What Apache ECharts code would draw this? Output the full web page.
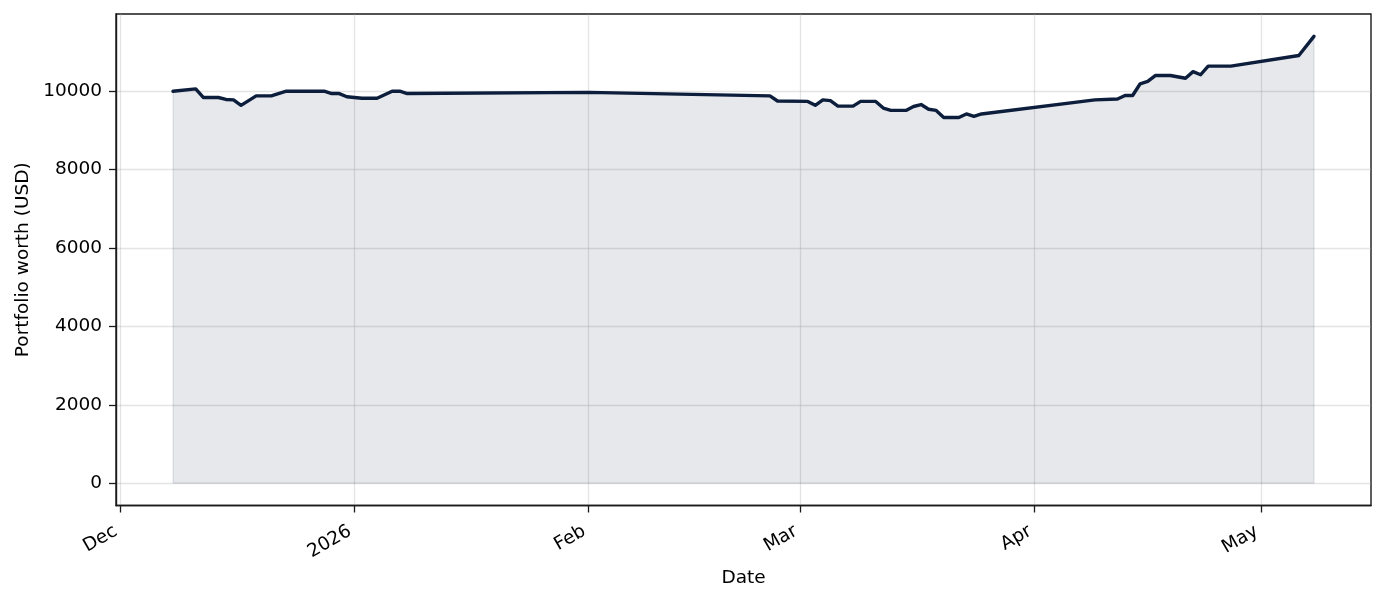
<!DOCTYPE html>
<html>
<head>
<meta charset="utf-8">
<script src="https://cdn.jsdelivr.net/npm/echarts@6/dist/echarts.min.js"></script>
<style>
html,body{margin:0;padding:0;background:#fff;}
#chart{width:1385px;height:602px;}
</style>
</head>
<body>
<div id="chart"></div>
<script>
// ---- data ----
const dates = [
  '2025-12-08','2025-12-11','2025-12-12','2025-12-14','2025-12-15','2025-12-16','2025-12-17',
  '2025-12-19','2025-12-21','2025-12-23','2025-12-28','2025-12-29','2025-12-30','2025-12-31',
  '2026-01-02','2026-01-04','2026-01-06','2026-01-07','2026-01-08','2026-02-01','2026-02-25',
  '2026-02-26','2026-03-02','2026-03-03','2026-03-04','2026-03-05','2026-03-06','2026-03-08',
  '2026-03-09','2026-03-11','2026-03-12','2026-03-13','2026-03-15','2026-03-16','2026-03-17',
  '2026-03-18','2026-03-19','2026-03-20','2026-03-22','2026-03-23','2026-03-24','2026-03-25',
  '2026-04-09','2026-04-12','2026-04-13','2026-04-14','2026-04-15','2026-04-16','2026-04-17',
  '2026-04-19','2026-04-21','2026-04-22','2026-04-23','2026-04-24','2026-04-27','2026-05-06',
  '2026-05-08'
];
const worth = [
  10000, 10060, 9840, 9840, 9790, 9780, 9640,
  9880, 9880, 10000, 10000, 9940, 9940, 9860,
  9820, 9820, 10000, 10000, 9940, 9970, 9880,
  9750, 9740, 9640, 9780, 9760, 9620, 9620,
  9740, 9740, 9570, 9510, 9510, 9610, 9660,
  9540, 9510, 9330, 9330, 9420, 9360, 9420,
  9780, 9800, 9890, 9890, 10190, 10250, 10400,
  10400, 10330, 10500, 10420, 10640, 10640, 10910,
  11400
];
const xTickDates = ['2025-12-01','2026-01-01','2026-02-01','2026-03-01','2026-04-01','2026-05-01'];
const xTickLabels = ['Dec','2026','Feb','Mar','Apr','May'];
const yTicks = [0, 2000, 4000, 6000, 8000, 10000];

// ---- build ----
const ts = d => { const p = d.split('-').map(Number); return Date.UTC(p[0], p[1]-1, p[2]); };
const seriesData = dates.map((d, i) => [ts(d), worth[i]]);
const xTickVals = xTickDates.map(ts);
const labelMap = {};
xTickVals.forEach((v, i) => { labelMap[v] = xTickLabels[i]; });

const first = ts(dates[0]), last = ts(dates[dates.length-1]);
const span = last - first;
const xMin = first - span * 0.05, xMax = last + span * 0.05;
const yLo = 0, yHi = Math.max(...worth);
const yMin = yLo - (yHi - yLo) * 0.05, yMax = yHi + (yHi - yLo) * 0.05;

// outline of the filled region (edge of the area polygon)
const fillEdge = [[first, 0]].concat(seriesData).concat([[last, 0], [first, 0]]);

const FONT = 'DejaVu Sans';
const AX = '#1a1a1a';
const GRIDC = 'rgba(176,176,176,0.34)';
const NAVY = '#0d1e3c';

const chart = echarts.init(document.getElementById('chart'), null, {renderer: 'canvas'});
chart.setOption({
  animation: false,
  backgroundColor: '#ffffff',
  textStyle: {fontFamily: FONT},
  grid: {left: 116, top: 14, right: 14, bottom: 96.5, show: true, borderColor: AX, borderWidth: 1.4, containLabel: false},
  xAxis: {
    type: 'value',
    min: xMin, max: xMax,
    name: 'Date', nameLocation: 'middle', nameGap: 63,
    nameTextStyle: {fontFamily: FONT, fontSize: 18.5, color: '#000'},
    axisLine: {show: true, onZero: false, lineStyle: {color: AX, width: 1.4}},
    axisTick: {show: true, length: 7, inside: false, customValues: xTickVals, lineStyle: {color: AX, width: 1.3}},
    axisLabel: {
      customValues: xTickVals, rotate: 30, margin: 22, padding: [0, 5, 0, 0],
      fontFamily: FONT, fontSize: 18.5, color: '#000',
      formatter: v => labelMap[v] || ''
    },
    splitLine: {show: true, lineStyle: {color: GRIDC, width: 1.3}}
  },
  yAxis: {
    type: 'value',
    min: yMin, max: yMax,
    name: 'Portfolio worth (USD)', nameLocation: 'middle', nameGap: 80, nameRotate: 90,
    nameTextStyle: {fontFamily: FONT, fontSize: 18.5, color: '#000'},
    axisLine: {show: true, onZero: false, lineStyle: {color: AX, width: 1.4}},
    axisTick: {show: true, length: 7, inside: false, customValues: yTicks, lineStyle: {color: AX, width: 1.3}},
    axisLabel: {customValues: yTicks, margin: 14, fontFamily: FONT, fontSize: 18.5, color: '#000',
      formatter: v => String(v)},
    splitLine: {show: true, lineStyle: {color: GRIDC, width: 1.3}}
  },
  series: [{
    type: 'line',
    data: fillEdge,
    showSymbol: false,
    symbol: 'none',
    silent: true,
    lineStyle: {color: NAVY, opacity: 0.1, width: 1.3},
    z: 2
  }, {
    type: 'line',
    data: seriesData,
    showSymbol: false,
    symbol: 'none',
    lineStyle: {color: NAVY, width: 3.4, join: 'round', cap: 'round'},
    areaStyle: {color: NAVY, opacity: 0.1, origin: 'auto'},
    z: 3
  }]
});
</script>
</body>
</html>
